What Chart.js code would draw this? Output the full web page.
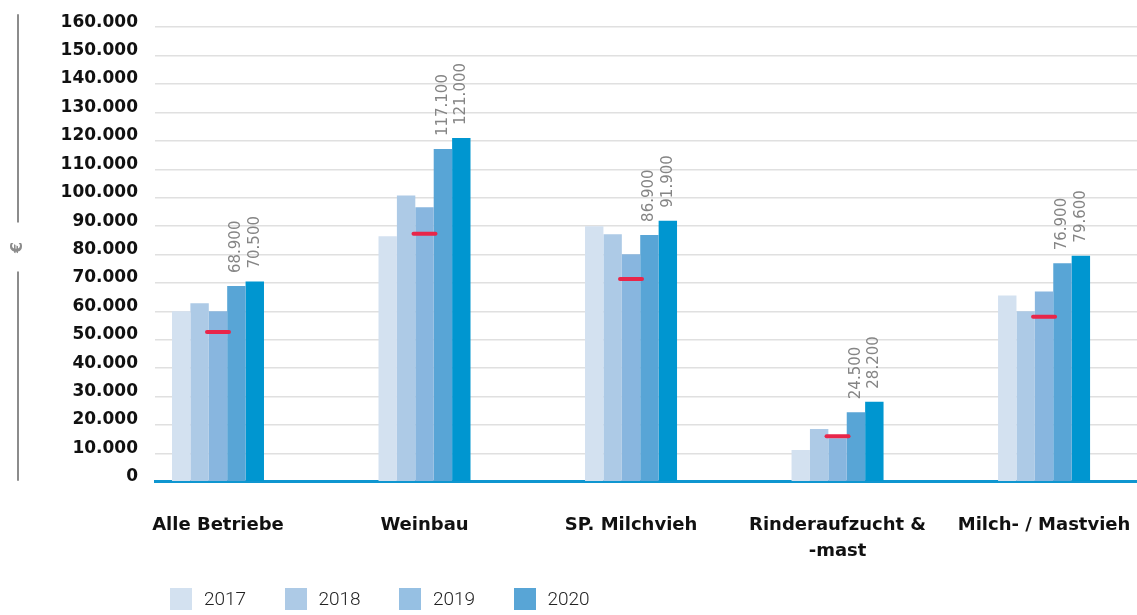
<!DOCTYPE html>
<html lang="de">
<head>
<meta charset="utf-8">
<title>Einkünfte je Betrieb</title>
<script src="https://cdn.jsdelivr.net/npm/chart.js@4.4.1/dist/chart.umd.min.js"></script>
<style>
  html, body { margin: 0; padding: 0; background: #fff; }
  #wrap { position: relative; width: 1137px; height: 615px; }
  #legend { position: absolute; left: 170px; top: 587px; display: flex; font-family: Roboto, sans-serif; font-weight: 300; font-size: 19px; color: #222; }
  .lg-item { display: flex; align-items: center; width: 114.5px; }
  .lg-box { width: 22px; height: 22px; margin-right: 12px; }
</style>
</head>
<body>
<div id="wrap">
  <canvas id="einkuenfteChart" width="1137" height="615"></canvas>
  <div id="legend"></div>
</div>
<script>
// Betriebsformen (x-Achse)
const categories = ['Alle Betriebe', 'Weinbau', 'SP. Milchvieh', ['Rinderaufzucht &', '-mast'], 'Milch- / Mastvieh'];
const years = ['2017', '2018', '2019', '2020', '2021'];

// Werte in Euro je Betrieb
const v2017 = [60000, 86400, 89900, 11200, 65600];
const v2018 = [62800, 100800, 87100, 18600, 60000];
const v2019 = [60000, 96600, 80100, 15300, 67000];
const v2020 = [68900, 117100, 86900, 24500, 76900];
const v2021 = [70500, 121000, 91900, 28200, 79600];
// Durchschnitt (rote Markierung)
const average = [52700, 87300, 71400, 16000, 58100];

const yTicks = { min: 0, max: 160000, step: 10000 };

const barColors = ['#d3e1f0', '#adcae6', '#88b6df', '#58a5d6', '#0096d0'];
const legendColors = ['#d3e1f0', '#adcae6', '#96c0e3', '#58a5d6'];

function fmt(v) {
  return String(v).replace(/\B(?=(\d{3})+(?!\d))/g, '.');
}

const toPoints = arr => arr.map((v, i) => ({ x: i, y: v }));
const seriesValues = [v2017, v2018, v2019, v2020, v2021];

const barSets = seriesValues.map((vals, k) => ({
  type: 'bar',
  label: years[k],
  data: toPoints(vals),
  backgroundColor: barColors[k],
  borderWidth: 0,
  categoryPercentage: 0.4455,
  barPercentage: 1,
  showValues: k >= 3,
  order: 1
}));

const avgSet = {
  type: 'line',
  label: 'Durchschnitt',
  data: toPoints(average),
  showLine: false,
  pointStyle: 'line',
  pointRadius: 11,
  pointHoverRadius: 11,
  pointBorderWidth: 4,
  pointBorderColor: '#e8264a',
  order: 0
};

// Werte senkrecht über den Balken
const valueLabels = {
  id: 'valueLabels',
  beforeDatasetDraw(chart, args) {
    if (args.meta.type === 'line') chart.ctx.lineCap = 'round';
  },
  afterDatasetDraw(chart, args) {
    if (args.meta.type === 'line') chart.ctx.lineCap = 'butt';
  },
  afterDatasetsDraw(chart) {
    const ctx = chart.ctx;
    chart.data.datasets.forEach((ds, di) => {
      if (!ds.showValues) return;
      const meta = chart.getDatasetMeta(di);
      meta.data.forEach((bar, i) => {
        ctx.save();
        ctx.translate(bar.x, bar.y - 13);
        ctx.rotate(-Math.PI / 2);
        ctx.font = '15px "DejaVu Sans", sans-serif';
        ctx.fillStyle = '#858585';
        ctx.textAlign = 'left';
        ctx.textBaseline = 'middle';
        ctx.fillText(fmt(ds.data[i].y), 0, 0);
        ctx.restore();
      });
    });
  }
};

// Achsenbeschriftung "€" mit senkrechten Linien
const axisCaption = {
  id: 'axisCaption',
  afterDraw(chart) {
    const ctx = chart.ctx;
    const area = chart.chartArea;
    const top = area.top - 13;
    const bottom = area.bottom - 1;
    const mid = (top + bottom) / 2;
    const x = 18;
    ctx.save();
    ctx.strokeStyle = '#8c8c8c';
    ctx.lineWidth = 2;
    ctx.beginPath();
    ctx.moveTo(x, top);
    ctx.lineTo(x, mid - 25);
    ctx.moveTo(x, mid + 24);
    ctx.lineTo(x, bottom);
    ctx.stroke();
    ctx.translate(x, mid);
    ctx.rotate(-Math.PI / 2);
    ctx.font = 'bold 16px "DejaVu Sans", sans-serif';
    ctx.fillStyle = '#8c8c8c';
    ctx.textAlign = 'center';
    ctx.textBaseline = 'middle';
    ctx.fillText('€', 0, 0);
    ctx.restore();
  }
};

const chart = new Chart(document.getElementById('einkuenfteChart'), {
  data: {
    datasets: [avgSet, ...barSets]
  },
  options: {
    responsive: false,
    animation: false,
    layout: { autoPadding: false, padding: { top: 15, right: 0, bottom: 21, left: 0 } },
    plugins: {
      legend: { display: false },
      tooltip: { enabled: false }
    },
    scales: {
      x: {
        type: 'linear',
        offset: false,
        min: -0.305,
        max: 4.45,
        afterBuildTicks(axis) {
          axis.ticks = categories.map((c, i) => ({ value: i }));
        },
        afterFit(scale) {
          scale.paddingLeft = 0;
          scale.paddingRight = 0;
        },
        grid: { display: false, drawTicks: false, offset: false },
        border: { display: true, color: '#0f96d0', width: 3 },
        ticks: {
          padding: 30,
          maxRotation: 0,
          autoSkip: false,
          color: '#111',
          font: { family: '"DejaVu Sans", sans-serif', size: 18, weight: 'bold', lineHeight: 1.45 },
          callback: v => categories[v]
        }
      },
      y: {
        min: yTicks.min,
        max: yTicks.max,
        afterFit(scale) { scale.width = 155; },
        grid: { color: '#e0e0e0', lineWidth: 1.5, drawTicks: false },
        border: { display: false },
        ticks: {
          stepSize: yTicks.step,
          padding: 17,
          labelOffset: -5,
          color: '#111',
          font: { family: '"DejaVu Sans", sans-serif', size: 17, weight: 'bold' },
          callback: v => fmt(v)
        }
      }
    }
  },
  plugins: [valueLabels, axisCaption]
});

// Legende aus den Datensätzen (ohne 2021)
const legendEl = document.getElementById('legend');
chart.data.datasets.filter(ds => ds.type === 'bar').slice(0, 4).forEach((ds, k) => {
  const item = document.createElement('div');
  item.className = 'lg-item';
  const box = document.createElement('span');
  box.className = 'lg-box';
  box.style.background = legendColors[k];
  const txt = document.createElement('span');
  txt.textContent = ds.label;
  item.appendChild(box);
  item.appendChild(txt);
  legendEl.appendChild(item);
});
</script>
</body>
</html>
